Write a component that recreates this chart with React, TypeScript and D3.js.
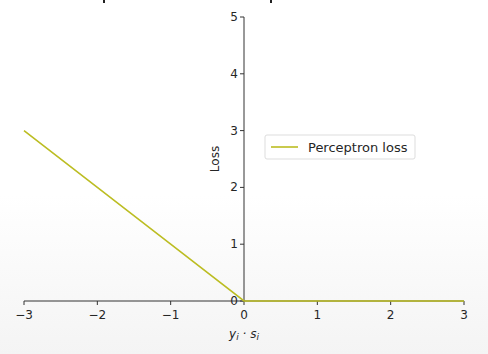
import React from "react";
import * as d3 from "d3";

const xs = [-3, -2, -1, 0, 1, 2, 3];
const lossValues = [3, 2, 1, 0, 0, 0, 0];
const xTicks = [-3, -2, -1, 0, 1, 2, 3];
const yTicks = [0, 1, 2, 3, 4, 5];
const seriesName = "Perceptron loss";

const W = 488, H = 354;

export default function App() {
  const x = d3.scaleLinear().domain([-3, 3]).range([24, 464]);
  const y = d3.scaleLinear().domain([0, 5]).range([301, 17]);
  const pts = xs.map((v, i) => [v, lossValues[i]] as [number, number]);
  const line = d3.line<[number, number]>().x(d => x(d[0])).y(d => y(d[1]));
  const font = "DejaVu Sans, sans-serif";
  const axisColor = "#333";
  const textColor = "#262626";
  const x0 = x(0), y0 = y(0);
  return (
    <svg width={W} height={H} style={{ position: "absolute", left: 0, top: 0 }} fontFamily={font}>
      <defs>
        <linearGradient id="bg" x1="0" y1="0" x2="0" y2="1">
          <stop offset="0.55" stopColor="#ffffff" />
          <stop offset="1" stopColor="#f4f4f4" />
        </linearGradient>
      </defs>
      <rect width={W} height={H} fill="url(#bg)" />
      <rect x={103} y={0} width={2} height={3} fill="#222" />
      <rect x={270} y={0} width={2} height={3} fill="#222" />
      {/* spines */}
      <line x1={x0} x2={x0} y1={y(5)} y2={y(0)} stroke={axisColor} strokeWidth={1} />
      <line x1={x(-3)} x2={x(3)} y1={y0} y2={y0} stroke={axisColor} strokeWidth={1} />
      {xTicks.map(t => (
        <g key={"x" + t}>
          <line x1={x(t)} x2={x(t)} y1={y0} y2={y0 + 4} stroke={axisColor} />
          <text x={x(t)} y={y0 + 18} textAnchor="middle" fontSize={12} fill={textColor}>
            {t < 0 ? "\u2212" + Math.abs(t) : String(t)}
          </text>
        </g>
      ))}
      {yTicks.map(t => (
        <g key={"y" + t}>
          <line x1={x0 - 4} x2={x0} y1={y(t)} y2={y(t)} stroke={axisColor} />
          <text x={x0 - 6} y={y(t) + 4} textAnchor="end" fontSize={12} fill={textColor}>{t}</text>
        </g>
      ))}
      <path d={line(pts) || ""} fill="none" stroke="#bcbd22" strokeWidth={1.6} />
      <text transform={`translate(${x0 - 25},${(y(5) + y(0)) / 2}) rotate(-90)`} textAnchor="middle" fontSize={12} fill={textColor}>Loss</text>
      <text x={x0} y={y0 + 37} textAnchor="middle" fontSize={12} fill={textColor} fontStyle="italic">
        y<tspan fontSize={9} dy={2}>i</tspan><tspan dy={-2}> · s</tspan><tspan fontSize={9} dy={2}>i</tspan>
      </text>
      <g>
        <rect x={265} y={135} width={150} height={24} rx={2} fill="#fff" stroke="#ddd" />
        <line x1={271} x2={298} y1={147} y2={147} stroke="#bcbd22" strokeWidth={1.6} />
        <text x={308} y={152} fontSize={13} fill={textColor}>{seriesName}</text>
      </g>
    </svg>
  );
}
